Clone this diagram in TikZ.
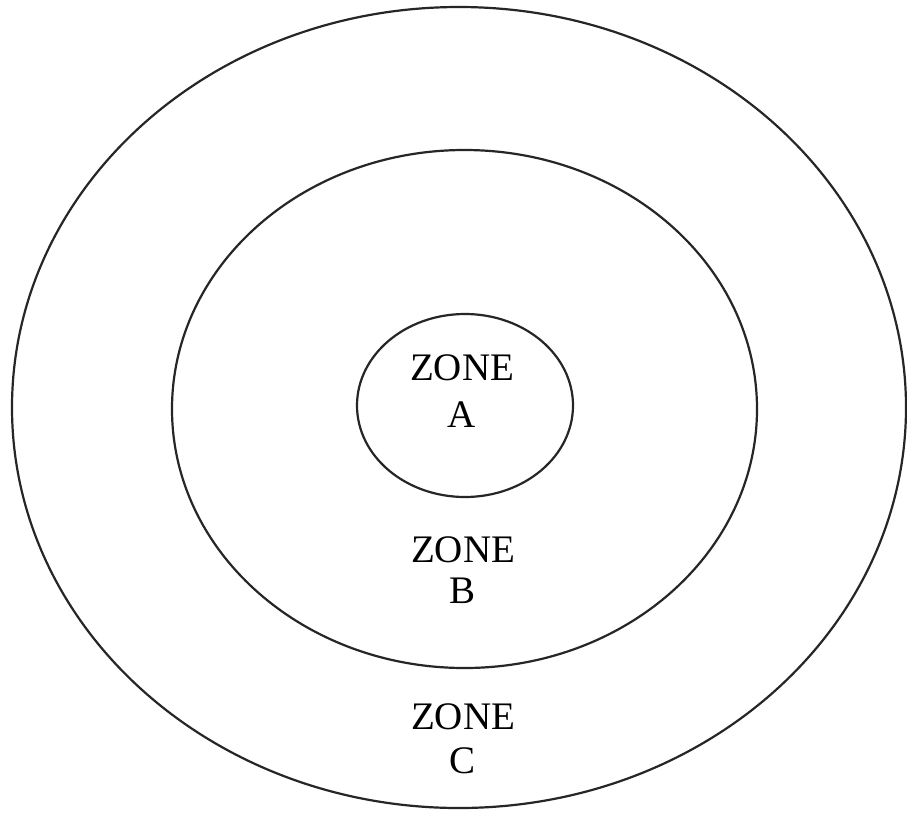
\documentclass[tikz,border=0pt]{standalone}
\usepackage{fontspec}
\setmainfont{Liberation Serif}
\begin{document}
\begin{tikzpicture}[x=1pt,y=-1pt,
  ring/.style={draw=black!85,line width=2.2pt},
  zlabel/.style={anchor=base,inner sep=0pt,font=\fontsize{39}{45}\selectfont}]
\useasboundingbox (0,0) rectangle (907,812);
\fill[white] (0,0) rectangle (907,812);
\draw[ring] (459,407.5) ellipse [x radius=447, y radius=400.5];
\draw[ring] (464.5,409) ellipse [x radius=292.5, y radius=259];
\draw[ring] (465,405.5) ellipse [x radius=108, y radius=91.5];
\node[zlabel] (za1) at (462,380) {ZONE};
\node[zlabel] (za2) at (462,427) {A};
\node[zlabel] (zb1) at (463,562) {ZONE};
\node[zlabel] (zb2) at (463,603) {B};
\node[zlabel] (zc1) at (463,729) {ZONE};
\node[zlabel] (zc2) at (463,773) {C};
\end{tikzpicture}
\end{document}
